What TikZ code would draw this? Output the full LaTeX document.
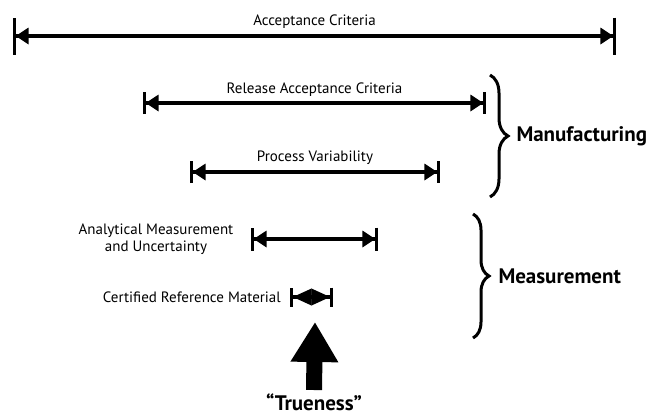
\documentclass[tikz,border=0pt]{standalone}
\usepackage{fontspec}
\setmainfont{PT Sans}
\usetikzlibrary{arrows.meta,decorations.pathreplacing}

\tikzset{
  span/.style n args={2}{line width=3.5pt,
    {Bar[width=#1,line width=2.6pt,sep=0pt]Triangle[length=#2,width=16pt,sep=0pt]}-{Triangle[length=#2,width=16pt,sep=0pt]Bar[width=#1,line width=2.6pt,sep=0pt]}},
  lab/.style={font=\fontsize{15}{17}\selectfont, inner sep=0pt},
  big/.style={font=\fontsize{21}{24}\selectfont\bfseries, inner sep=0pt},
  curly/.style={line width=3pt, decorate, decoration={brace,amplitude=#1,aspect=0.5}}
}

\begin{document}
\begin{tikzpicture}[x=1pt,y=-1pt]
 \useasboundingbox (0,0) rectangle (654,416);
 % ranges, widest first
 \foreach \nm/\xl/\xr/\yy/\bh/\tl in {acc/13/616/36/37pt/13pt,rel/143/486/103/22pt/13pt,proc/190/440/172/22pt/13pt,anal/251/378/239/23pt/13pt,crm/290/333/297/19pt/19pt}{%
   \coordinate (\nm-l) at (\xl,\yy);
   \coordinate (\nm-r) at (\xr,\yy);
   \draw[span={\bh}{\tl}] (\nm-l) -- (\nm-r);
 }
 \path (acc-l) -- node[lab,yshift=14pt] (acc-txt) {Acceptance Criteria} (acc-r);
 \path (rel-l) -- node[lab,yshift=13.5pt] (rel-txt) {Release Acceptance Criteria} (rel-r);
 \path (proc-l) -- node[lab,yshift=14pt] (proc-txt) {Process Variability} (proc-r);
 \node[lab,align=center] (anal-txt) at (156,239) {Analytical Measurement\\and Uncertainty};
 \node[lab,anchor=east] (crm-txt) at (281,297) {Certified Reference Material};
 % braces
 \coordinate (mfg-top) at (490,75);
 \coordinate (mfg-bot) at (490,197);
 \draw[curly=18pt] (mfg-top) -- node[big,anchor=west,xshift=25pt] (mfg) {Manufacturing} (mfg-bot);
 \coordinate (meas-top) at (473,214);
 \coordinate (meas-bot) at (473,338);
 \draw[curly=16pt] (meas-top) -- node[big,anchor=west,xshift=24pt] (meas) {Measurement} (meas-bot);
 % trueness
 \node[big] (true) at (314,402) {“Trueness”};
 \coordinate (true-tip) at (315,322);
 \draw[line width=16pt,-{Triangle[length=40pt,width=45pt]}] (true.north |- 0,390) -- (true-tip);
\end{tikzpicture}
\end{document}
